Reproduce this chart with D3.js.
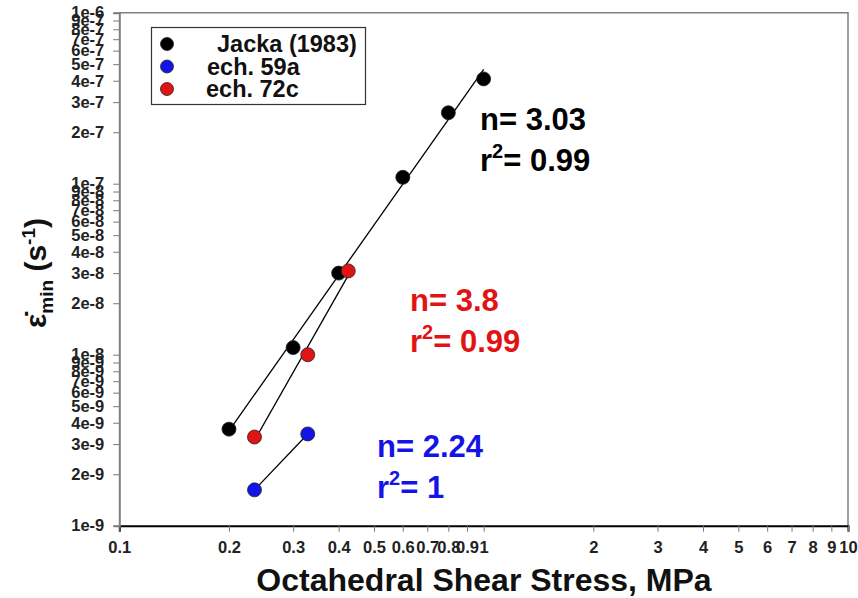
<!DOCTYPE html>
<html>
<head>
<meta charset="utf-8">
<script src="https://cdn.jsdelivr.net/npm/d3@7"></script>
<style>
body { margin: 0; background: #fff; }
text { font-family: Arial, "Liberation Sans", sans-serif; font-weight: bold; }
</style>
</head>
<body>
<div id="container"></div>
<script>
var svgWidth = 858;
var svgHeight = 598;

// data
var jackaStress = [0.2, 0.3, 0.4, 0.6, 0.8, 1.0];
var jackaRate = [3.67e-9, 1.1e-8, 3.0e-8, 1.09e-7, 2.6e-7, 4.1e-7];
var ech59aStress = [0.235, 0.329];
var ech59aRate = [1.62e-9, 3.44e-9];
var ech72cStress = [0.235, 0.329, 0.425];
var ech72cRate = [3.3e-9, 1.0e-8, 3.09e-8];

var seriesNames = ['Jacka (1983)', 'ech. 59a', 'ech. 72c'];
var seriesColors = ['#000000', '#1414e6', '#e01414'];
var fitLabels = [['3.03', '0.99'], ['2.24', '1'], ['3.8', '0.99']];

var xTickValues = [0.1, 0.2, 0.3, 0.4, 0.5, 0.6, 0.7, 0.8, 0.9, 1, 2, 3, 4, 5, 6, 7, 8, 9, 10];
var yTickValues = [];
[-9, -8, -7].forEach(function (e) {
    for (var m = 1; m <= 9; m++) yTickValues.push(m * Math.pow(10, e));
});
yTickValues.push(1e-6);

var x = d3.scaleLog().domain([0.1, 10]).range([119.3, 848]);
var y = d3.scaleLog().domain([1e-9, 1e-6]).range([525.7, 12.7]);

var svg = d3.select('#container').append('svg')
    .attr('width', svgWidth)
    .attr('height', svgHeight);

// frame top and right
svg.append('path')
    .attr('d', 'M' + x(0.1) + ',' + y(1e-6) + 'H' + x(10) + 'V' + y(1e-9))
    .style('fill', 'none')
    .style('stroke', '#808080')
    .style('stroke-width', 1.5);

function yFormat(v) {
    var e = Math.floor(Math.log10(v) + 1e-9);
    var m = Math.round(v / Math.pow(10, e));
    return m + 'e' + e;
}

var xAxis = svg.append('g')
    .attr('transform', 'translate(0,' + y(1e-9) + ')')
    .call(d3.axisBottom(x).tickValues(xTickValues).tickFormat(function (d) { return String(d); }).tickSize(6).tickPadding(10));
xAxis.select('.domain').style('stroke', '#000').style('stroke-width', 2);
xAxis.selectAll('.tick line').style('stroke', '#777');
xAxis.selectAll('text').style('font-size', '16.5px').style('fill', '#222');

var yAxis = svg.append('g')
    .attr('transform', 'translate(' + x(0.1) + ',0)')
    .call(d3.axisLeft(y).tickValues(yTickValues).tickFormat(yFormat).tickSize(6).tickPadding(9));
yAxis.select('.domain').style('stroke', '#808080').style('stroke-width', 2);
yAxis.selectAll('.tick line').style('stroke', '#777');
yAxis.selectAll('text').style('font-size', '16.5px').style('fill', '#222');

// fitted power laws
function fit(xs, ys) {
    var lx = xs.map(Math.log10), ly = ys.map(Math.log10);
    var mx = d3.mean(lx), my = d3.mean(ly);
    var num = 0, den = 0;
    for (var i = 0; i < lx.length; i++) {
        num += (lx[i] - mx) * (ly[i] - my);
        den += (lx[i] - mx) * (lx[i] - mx);
    }
    var b = num / den;
    var a = my - b * mx;
    var x0 = d3.min(xs), x1 = d3.max(xs);
    return [[x0, Math.pow(10, a + b * Math.log10(x0))], [x1, Math.pow(10, a + b * Math.log10(x1))]];
}

var series = [
    {stress: jackaStress, rate: jackaRate},
    {stress: ech59aStress, rate: ech59aRate},
    {stress: ech72cStress, rate: ech72cRate}
];

var line = d3.line()
    .x(function (d) { return x(d[0]); })
    .y(function (d) { return y(d[1]); });

series.forEach(function (s) {
    svg.append('path')
        .attr('d', line(fit(s.stress, s.rate)))
        .style('fill', 'none')
        .style('stroke', '#000')
        .style('stroke-width', 1.3);
});

series.forEach(function (s, i) {
    svg.append('g').selectAll('circle')
        .data(s.stress.map(function (v, j) { return [v, s.rate[j]]; }))
        .enter().append('circle')
        .attr('cx', function (d) { return x(d[0]); })
        .attr('cy', function (d) { return y(d[1]); })
        .attr('r', 7)
        .style('fill', seriesColors[i])
        .style('stroke', '#222')
        .style('stroke-width', 0.8);
});

// legend
var legend = svg.append('g');
legend.append('rect')
    .attr('x', 151.5).attr('y', 27.5)
    .attr('width', 214).attr('height', 77)
    .style('fill', '#fff')
    .style('stroke', '#333')
    .style('stroke-width', 1.2);
var legendX = [217, 207, 206];
seriesNames.forEach(function (name, i) {
    var ly = 44 + i * 22.5;
    legend.append('circle')
        .attr('cx', 167).attr('cy', ly).attr('r', 6.5)
        .style('fill', seriesColors[i]).style('stroke', '#222').style('stroke-width', 0.8);
    legend.append('text')
        .attr('x', legendX[i]).attr('y', ly + 8)
        .style('font-size', '23.5px')
        .style('fill', '#111')
        .text(name);
});

// fit annotations
var annPos = [[480, 130], [377, 457], [410, 311]];
fitLabels.forEach(function (lab, i) {
    var g = svg.append('g').style('fill', seriesColors[i]).style('font-size', '31px');
    g.append('text')
        .attr('x', annPos[i][0]).attr('y', annPos[i][1])
        .text('n= ' + lab[0]);
    var t = g.append('text')
        .attr('x', annPos[i][0]).attr('y', annPos[i][1] + 41);
    t.append('tspan').text('r');
    t.append('tspan').attr('dy', -13).style('font-size', '20px').text('2');
    t.append('tspan').attr('dy', 13).text('= ' + lab[1]);
});

// axis titles
svg.append('text')
    .attr('x', 484).attr('y', 591)
    .attr('text-anchor', 'middle')
    .style('font-size', '32px')
    .style('fill', '#111')
    .text('Octahedral Shear Stress, MPa');

var yt = svg.append('text')
    .attr('transform', 'translate(46,273) rotate(-90)')
    .attr('text-anchor', 'middle')
    .style('font-size', '30px')
    .style('fill', '#111');
yt.append('tspan').text('\u03B5\u0307');
yt.append('tspan').attr('dy', 7).style('font-size', '19px').text('min');
yt.append('tspan').attr('dy', -7).text(' (s');
yt.append('tspan').attr('dy', -11).style('font-size', '19px').text('-1');
yt.append('tspan').attr('dy', 11).text(')');
</script>
</body>
</html>
